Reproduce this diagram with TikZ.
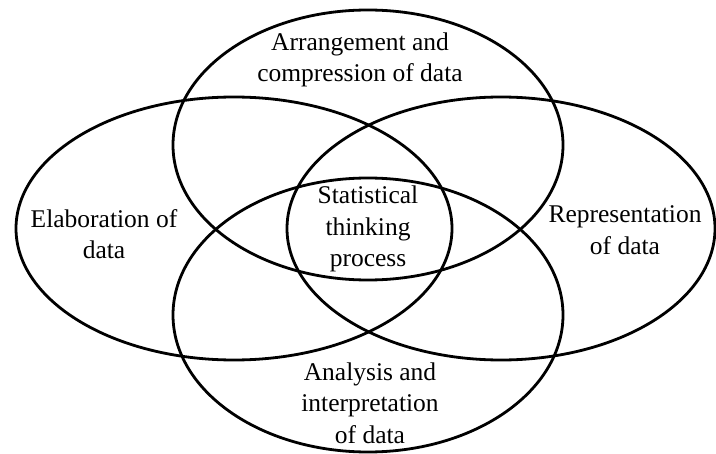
\documentclass[tikz,border=0pt]{standalone}
\usepackage{fontspec}
\setmainfont{Liberation Serif}
\usepackage{tikz}
\usetikzlibrary{shapes.geometric,positioning}

\tikzset{
    field/.style={draw, ellipse, line width=1.4pt, inner sep=0pt},
    lbl/.style={align=center, inner sep=0pt, font=\fontsize{12.75}{15.75}\selectfont}
}

\begin{document}
\begin{tikzpicture}[x=0.5pt, y=-0.5pt]
        \useasboundingbox (0,0) rectangle (716,454);

        % Ellipses
        \foreach \name/\x/\y/\w/\h in {arrangeset/368/145/195/135, analysisset/368/315/195/137,
                                       elabset/234/228.5/218/131.5, reprset/501/228.5/214/131.5}
        \node[field, minimum width=\w pt, minimum height=\h pt] (\name) at (\x,\y) {};

        % Labels
        \node[lbl] (arrangelbl) at (360,60) {Arrangement and\\compression of data};
        \node[lbl] (elablbl) at (104,234) {Elaboration of\\data};
        \node[lbl] (thinking) at (368,229) {Statistical\\thinking\\process};
        \node[lbl] (reprlbl) at (625,230) {Representation\\of data};
        \node[lbl] (analysislbl) at (370,403) {Analysis and\\interpretation\\of data};
\end{tikzpicture}
\end{document}
